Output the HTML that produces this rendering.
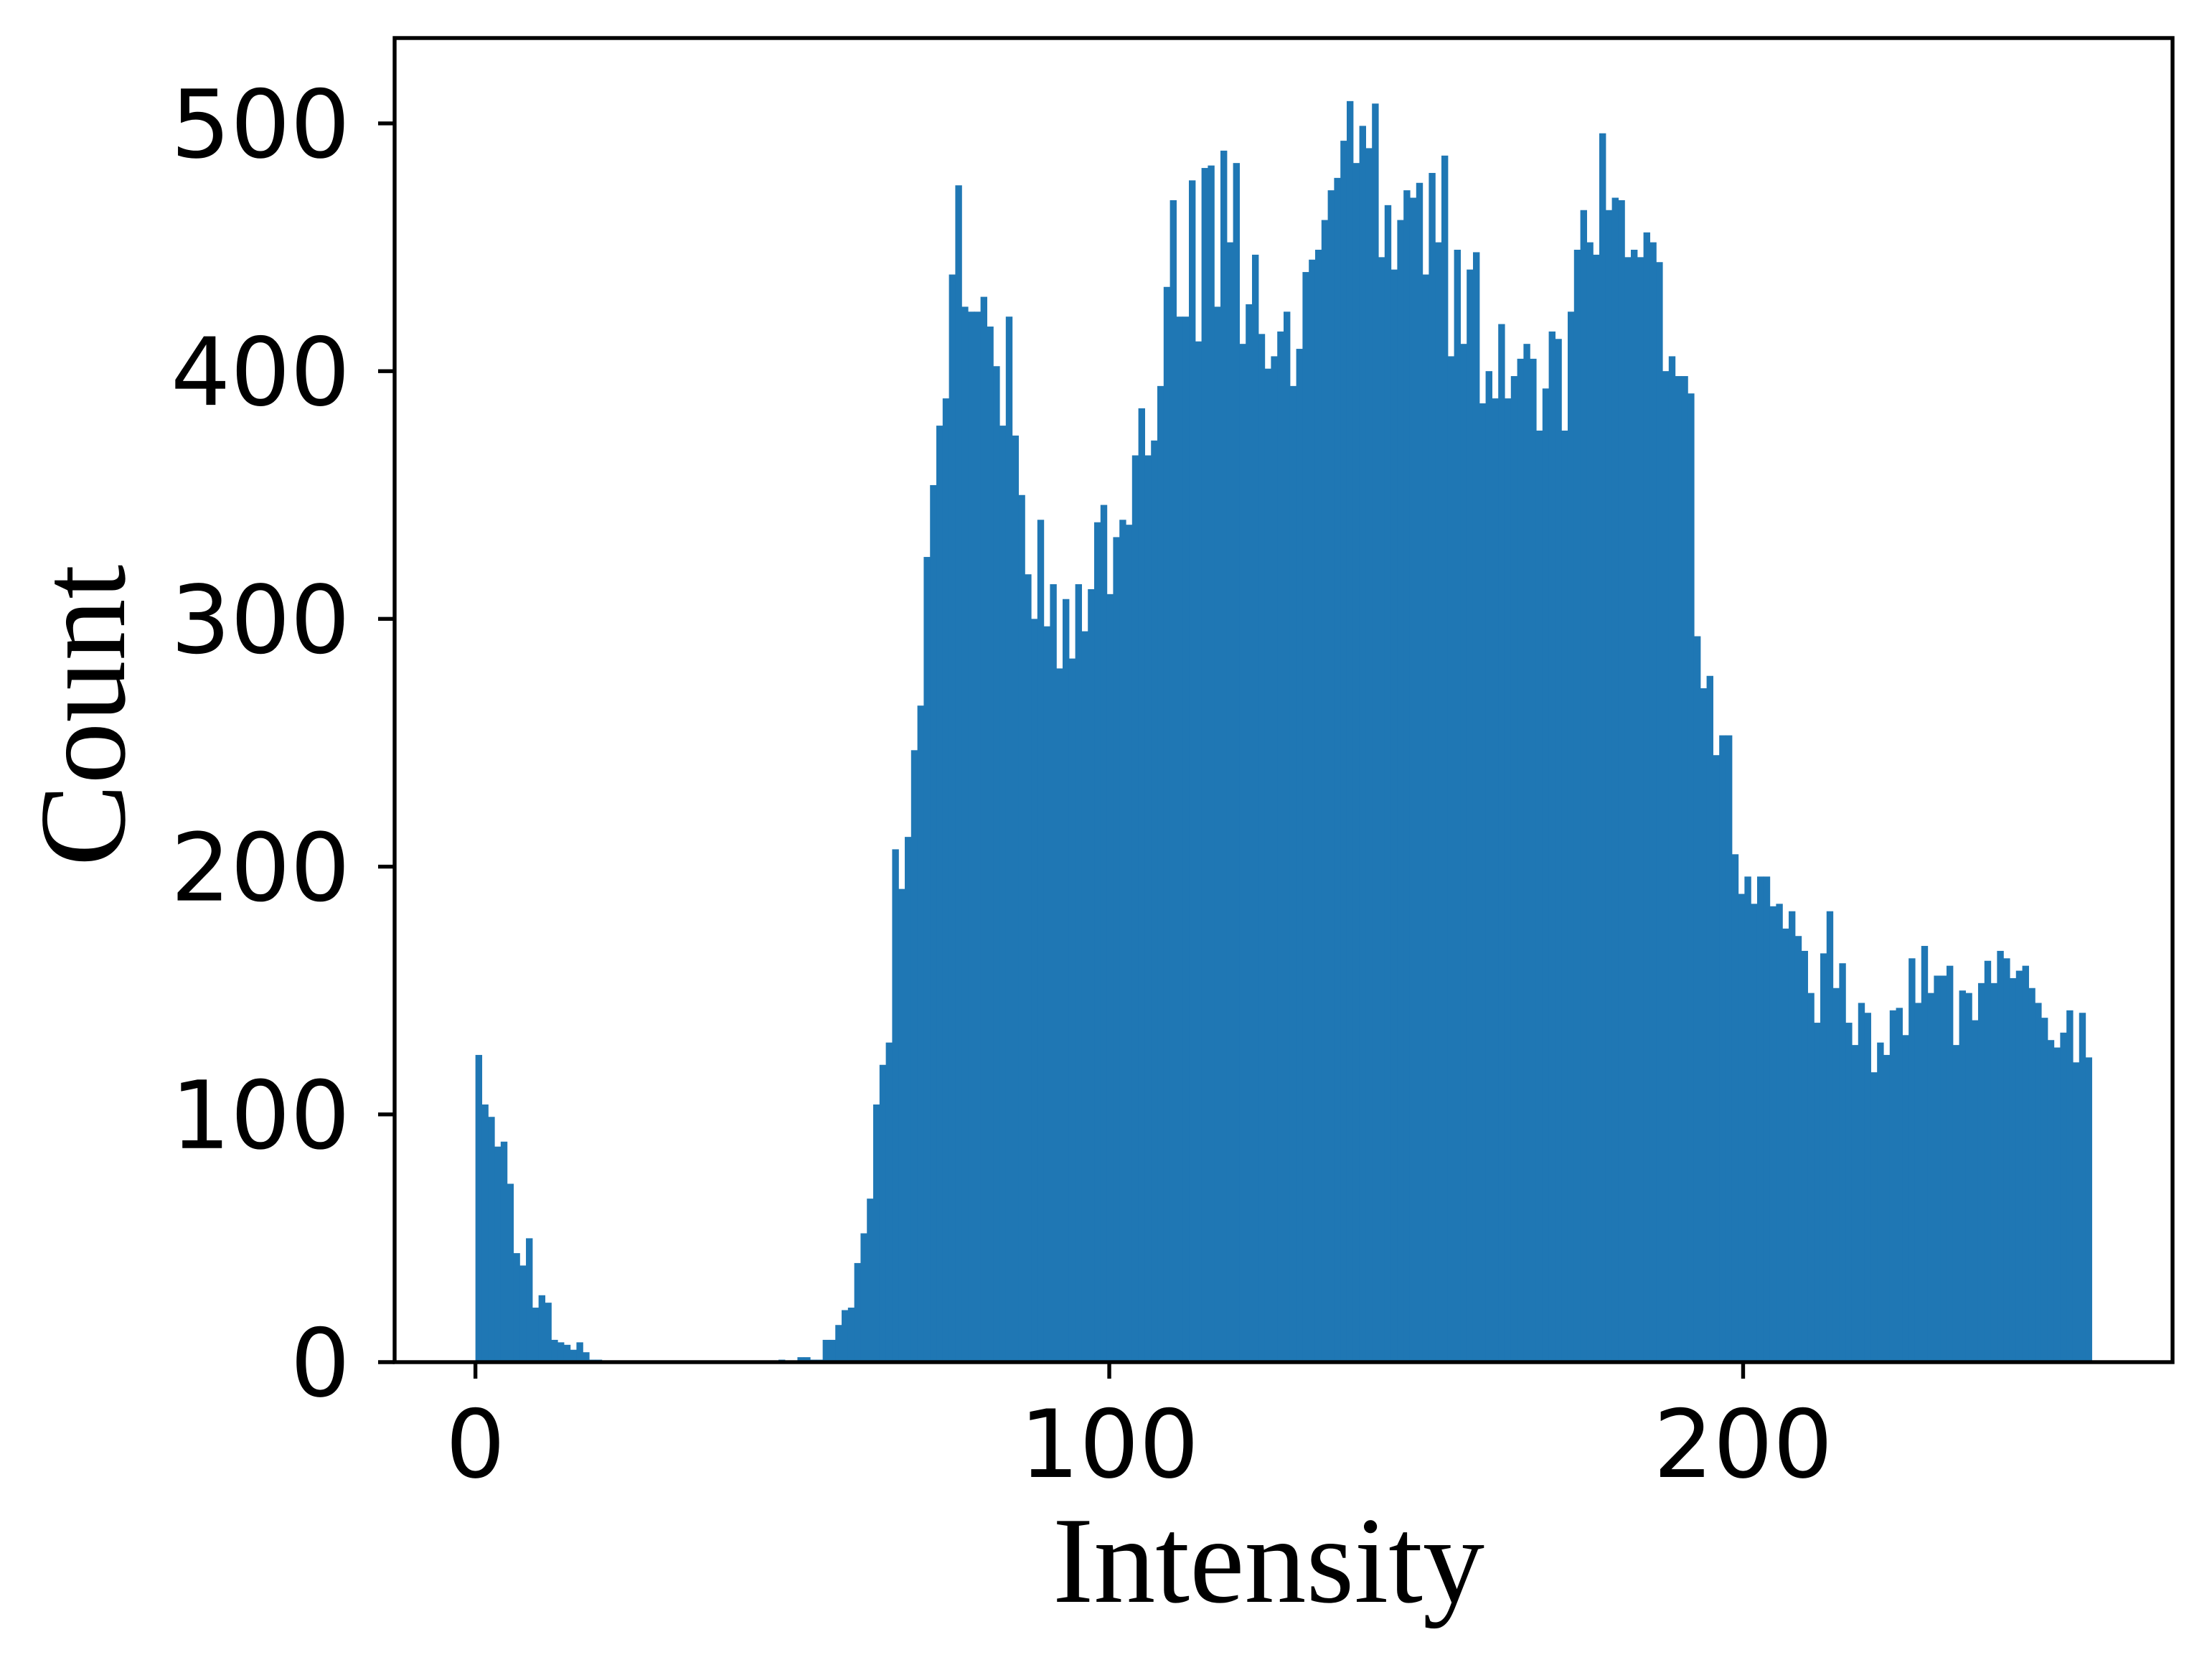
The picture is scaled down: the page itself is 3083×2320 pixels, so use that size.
<!DOCTYPE html>
<html><head><meta charset="utf-8"><style>
html,body{margin:0;padding:0;background:#fff;}
svg{display:block;}
</style></head>
<body>
<svg id="chart" width="3083" height="2320" viewBox="0 0 3083 2320" xmlns="http://www.w3.org/2000/svg">
<rect x="0" y="0" width="3083" height="2320" fill="#fff"/>
<g id="bars"></g>
<g id="axes"></g>
</svg>
<script>
const binStart = 0;
const binEnd = 255;
const counts = [
124,104,99,87,89,72,44,39,50,22,27,24,9,8,7,5,8,4,1,1,
0,0,0,0,0,0,0,0,0,0,0,0,0,0,0,0,0,0,0,0,0,0,0,0,0,0,0,0,
1,0,0,2,2,1,1,9,9,15,21,22,40,52,66,104,120,129,207,191,212,247,
265,325,354,378,389,439,475,426,424,424,430,418,402,378,422,374,350,318,300,340,
297,314,280,308,284,314,295,312,339,346,310,333,340,338,366,385,366,372,394,434,
469,422,422,477,412,482,483,426,489,452,484,411,427,447,415,401,406,416,424,394,
409,440,445,449,461,473,478,493,509,484,499,490,508,446,467,441,461,473,470,476,
439,480,452,487,406,449,411,441,448,387,400,389,419,389,398,405,411,405,376,393,
416,413,376,424,449,465,452,447,496,465,470,469,446,449,446,456,452,444,400,406,
398,398,391,293,272,277,245,253,253,205,189,196,185,196,196,184,185,175,182,172,
166,149,137,165,182,151,161,137,128,145,141,117,129,124,142,143,132,163,145,168,
149,156,156,160,128,150,149,138,153,162,153,166,163,155,158,160,151,145,139,130,
127,133,142,121,141,123
];
const xTicks = [0,100,200];
const yTicks = [0,100,200,300,400,500];
const xLabelText = "Intensity";
const yLabelText = "Count";

const NS = "http://www.w3.org/2000/svg";
const L = 550, R = 3028, T = 53, B = 1898;
const xMin = -12.75, xMax = 267.75;
const yMin = 0, yMax = 534.45;
function xs(v){ return L + (v - xMin) / (xMax - xMin) * (R - L); }
function ys(v){ return B - (v - yMin) / (yMax - yMin) * (B - T); }

const barsG = document.getElementById('bars');
const nb = counts.length;
const bw = (binEnd - binStart) / nb;
for (let i = 0; i < nb; i++) {
  if (counts[i] <= 0) continue;
  const x0 = xs(binStart + i * bw), x1 = xs(binStart + (i + 1) * bw);
  const r = document.createElementNS(NS, 'rect');
  r.setAttribute('x', x0);
  r.setAttribute('y', ys(counts[i]));
  r.setAttribute('width', (x1 - x0) + 0.6);
  r.setAttribute('height', B - ys(counts[i]));
  r.setAttribute('fill', '#1f77b4');
  
  
  barsG.appendChild(r);
}

const ax = document.getElementById('axes');
function mk(tag, attrs, text){
  const e = document.createElementNS(NS, tag);
  for (const k in attrs) e.setAttribute(k, attrs[k]);
  if (text !== undefined) e.textContent = text;
  ax.appendChild(e);
  return e;
}
const frame = mk('rect', {x:L, y:T, width:R-L, height:B-T, fill:'none', stroke:'#000', 'stroke-width':5.4});



xTicks.forEach(v => {
  const t = mk('line', {x1:xs(v), x2:xs(v), y1:B, y2:B+23, stroke:'#000', 'stroke-width':5.4});
  
  
  const lb = mk('text', {x:xs(v), y:2058, 'text-anchor':'middle', 'font-family':'DejaVu Sans, Liberation Sans, sans-serif', 'font-size':131, fill:'#000'}, String(v));
  
  
});
yTicks.forEach(v => {
  const t = mk('line', {x1:L-23, x2:L, y1:ys(v), y2:ys(v), stroke:'#000', 'stroke-width':5.4});
  
  
  const lb = mk('text', {x:488, y:ys(v)+47, 'text-anchor':'end', 'font-family':'DejaVu Sans, Liberation Sans, sans-serif', 'font-size':131, fill:'#000'}, String(v));
  
  
});
const xl = mk('text', {x:1768, y:2232, 'text-anchor':'middle', 'font-family':'Liberation Serif, serif', 'font-size':172, fill:'#000'}, xLabelText);


const yl = mk('text', {x:0, y:0, transform:'translate(173,997) rotate(-90)', 'text-anchor':'middle', 'font-family':'Liberation Serif, serif', 'font-size':172, fill:'#000'}, yLabelText);


</script>
</body></html>
